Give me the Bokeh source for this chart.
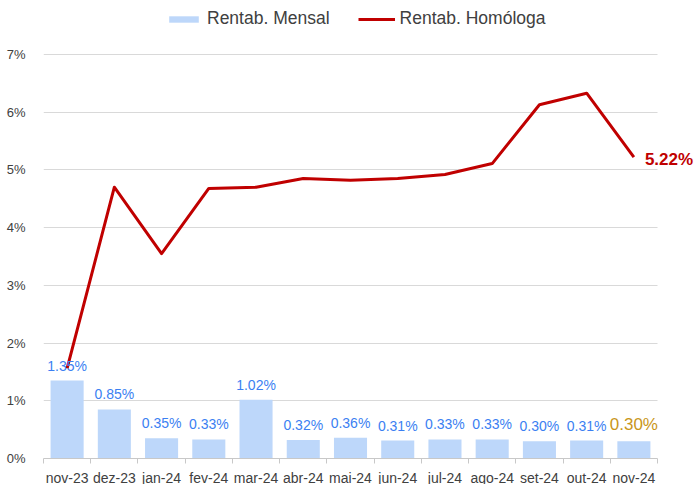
from bokeh.plotting import figure
from bokeh.models import ColumnDataSource, FixedTicker, Legend, LegendItem, PrintfTickFormatter, Range1d, Label
from bokeh.core.properties import value
from bokeh.embed import file_html
from bokeh.resources import INLINE

months = ["nov-23", "dez-23", "jan-24", "fev-24", "mar-24", "abr-24", "mai-24",
          "jun-24", "jul-24", "ago-24", "set-24", "out-24", "nov-24"]
mensal = [1.35, 0.85, 0.35, 0.33, 1.02, 0.32, 0.36, 0.31, 0.33, 0.33, 0.30, 0.31, 0.30]
homologa = [1.56, 4.70, 3.55, 4.68, 4.70, 4.85, 4.82, 4.85, 4.92, 5.11, 6.13, 6.33, 5.22]
y_ticks = [0, 1, 2, 3, 4, 5, 6, 7]

FONT = "Liberation Sans"
BLUE_LBL = "#3b7ff2"
GOLD = "#c9961a"
RED = "#c00000"

n = len(months)
xs = [i + 0.5 for i in range(n)]
labels = [f"{v:.2f}%" for v in mensal]
lbl_colors = [BLUE_LBL] * (n - 1) + [GOLD]
lbl_sizes = ["14px"] * (n - 1) + ["17px"]

src = ColumnDataSource(dict(x=xs, mensal=mensal, hom=homologa, lbl=labels,
                            col=lbl_colors, size=lbl_sizes))

# category area is 614px wide, 404px tall; frame extended up (legend) and right (end label)
CAT_W, CAT_H = 614, 404
FW, FH = 653, 458
x_end = n * FW / CAT_W
y_top = y_ticks[-1] * FH / CAT_H
p = figure(frame_width=FW, frame_height=FH, output_backend="svg", toolbar_location=None,
           x_range=Range1d(0, x_end), y_range=Range1d(0, y_top),
           min_border_left=43, min_border_right=0, min_border_top=0, min_border_bottom=26)
p.outline_line_color = None
p.background_fill_color = "white"
p.border_fill_color = "white"

bars = p.vbar(x="x", top="mensal", width=0.7, fill_color="#bdd7fa", line_color=None, source=src)
line = p.line(x="x", y="hom", line_color=RED, line_width=3, line_join="round", source=src)

p.text(x="x", y="mensal", text="lbl", text_color="col", text_font_size="size",
       text_font=value(FONT), text_align="center", text_baseline="bottom",
       y_offset=-7, source=src)

p.add_layout(Label(x=xs[-1], y=homologa[-1], text=f"{homologa[-1]:.2f}%",
                   text_color=RED, text_font_size="17px", text_font=FONT,
                   text_font_style="bold", text_align="left", text_baseline="middle",
                   x_offset=11, y_offset=-2))

# axes
xa = p.xaxis[0]
xa.bounds = (0, n)
xa.ticker = FixedTicker(ticks=xs, minor_ticks=list(range(n + 1)))
xa.major_label_overrides = {x: m for x, m in zip(xs, months)}
xa.major_tick_out = 0
xa.major_tick_in = 0
xa.minor_tick_out = 5
xa.minor_tick_in = 0
xa.minor_tick_line_color = "#c8c8c8"
xa.axis_line_color = "#c8c8c8"
xa.major_label_text_font = FONT
xa.major_label_text_font_size = "14px"
xa.major_label_text_color = "#404040"
xa.major_label_standoff = 6

ya = p.yaxis[0]
ya.ticker = FixedTicker(ticks=y_ticks)
ya.formatter = PrintfTickFormatter(format="%d%%")
ya.axis_line_color = None
ya.major_tick_line_color = None
ya.minor_tick_line_color = None
ya.major_label_text_font = FONT
ya.major_label_text_font_size = "13px"
ya.major_label_text_color = "#404040"
ya.major_label_standoff = 12

p.xgrid.grid_line_color = None
yg = p.ygrid[0]
yg.grid_line_color = "#d9d9d9"
yg.grid_line_width = 1
if "cross_bounds" in yg.properties():
    yg.cross_bounds = (0, n)

legend = Legend(items=[LegendItem(label="Rentab. Mensal", renderers=[bars]),
                       LegendItem(label="Rentab. Homóloga", renderers=[line])],
                orientation="horizontal", location=(122, FH - 29),
                label_text_font=FONT, label_text_font_size="17.5px",
                label_text_color="#404040", glyph_width=37, glyph_height=8,
                spacing=28, padding=0, margin=0, border_line_color=None,
                background_fill_alpha=0, label_standoff=5)
p.add_layout(legend, "center")

open("out.html", "w").write(file_html(p, INLINE))
